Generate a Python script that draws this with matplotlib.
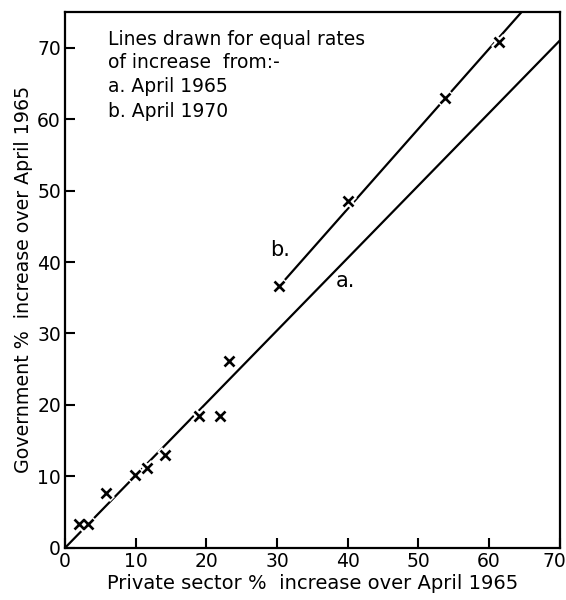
import matplotlib
matplotlib.use('Agg')
import matplotlib.pyplot as plt
from matplotlib.transforms import ScaledTranslation

# data
private = [1.9, 3.2, 5.8, 9.9, 11.6, 14.2, 18.9, 21.9, 23.2, 30.3, 40.0, 53.7, 61.4]
government = [3.3, 3.3, 7.7, 10.2, 11.2, 13.0, 18.4, 18.4, 26.1, 36.6, 48.5, 63.0, 70.8]

# equal-rate lines (end points)
line_a_x = [0, 70]
line_a_y = [0, 71]
line_b_x = [30.3, 64.6]
line_b_y = [36.6, 75]

ticks = [0, 10, 20, 30, 40, 50, 60, 70]
legend_lines = ['Lines drawn for equal rates', 'of increase  from:-',
                'a. April 1965', 'b. April 1970']


def plot():
    plt.rcParams['font.family'] = 'DejaVu Sans'
    plt.rcParams['font.size'] = 12

    fig = plt.figure(figsize=(5.66, 6), dpi=100)
    ax = fig.add_axes([0.115, 0.087, 0.874, 0.893])
    ax.set_xlim(0, 70)
    ax.set_ylim(0, 75)

    # lines
    ax.plot(line_a_x, line_a_y, '-', color='black', lw=1.6, zorder=2)
    ax.plot(line_b_x, line_b_y, '-', color='black', lw=1.6, zorder=2)

    # points (white halo cuts the lines round each cross)
    ax.plot(private, government, 'x', color='white', ms=9, mew=5, zorder=3)
    ax.plot(private, government, 'x', color='black', ms=7, mew=1.9, zorder=4)

    ax.text(30.4, 41.7, 'b.', fontsize=15, ha='center', va='center')
    ax.text(39.6, 37.3, 'a.', fontsize=15, ha='center', va='center')

    # legend text
    ys = [71.1, 67.9, 64.6, 61.1]
    for t, y in zip(legend_lines, ys):
        ax.text(6.1, y, t, fontsize=13.5, ha='left', va='center')

    # axes styling
    for s in ax.spines.values():
        s.set_linewidth(1.6)
    ax.set_xticks(ticks)
    ax.set_yticks(ticks)
    ax.tick_params(direction='in', length=7, width=1.5, labelsize=13.5,
                   top=False, right=False, pad=3)
    ax.set_xlabel('Private sector %  increase over April 1965', fontsize=14, labelpad=2)
    ax.set_ylabel('Government %  increase over April 1965', fontsize=13.7, labelpad=3)

    # keep the last x label inside the picture
    last = ax.get_xticklabels()[-1]
    last.set_transform(last.get_transform() + ScaledTranslation(-0.05, 0, fig.dpi_scale_trans))

    fig.savefig('out.png', dpi=100)


if __name__ == '__main__':
    plot()
